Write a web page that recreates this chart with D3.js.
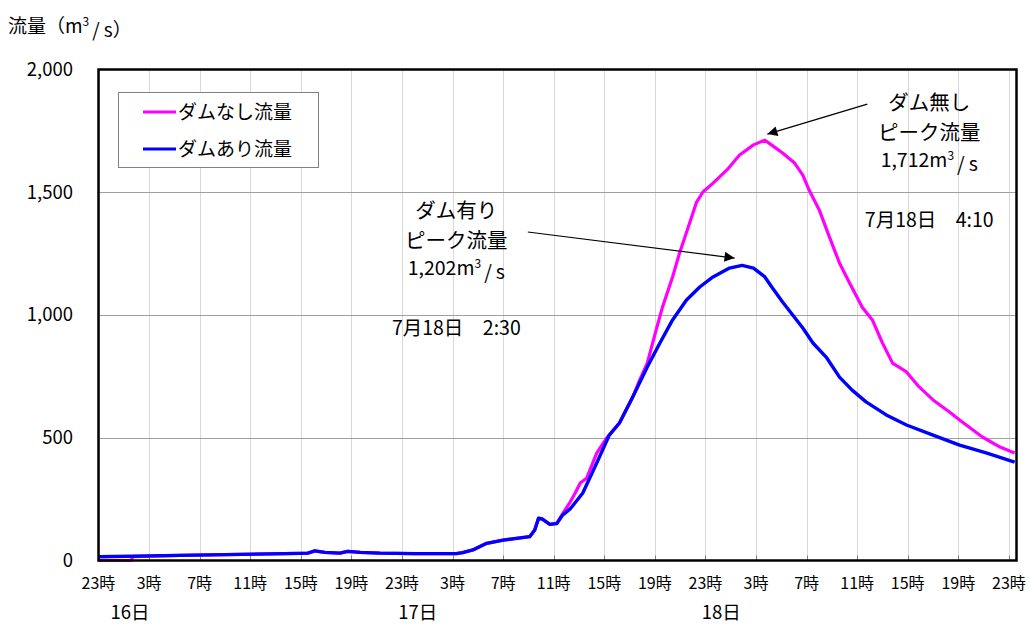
<!DOCTYPE html>
<html>
<head>
<meta charset="utf-8">
<script src="https://cdn.jsdelivr.net/npm/d3@7"></script>
<style>
  body { margin: 0; background: #fff; }
  svg text { font-family: "Noto Sans CJK JP", "Noto Sans", sans-serif; fill: #000; }
</style>
</head>
<body>
<svg id="chart" width="1030" height="624"></svg>
<script>
// Elapsed hours counted from 16日 0:00 (negative = 15日)
const hourPink = [-1, 1.6, 1.7, 5.44, 14.93, 15.56, 16.1, 16.9, 18.1, 18.7, 19.7, 21.25, 23.9, 27.3, 27.8, 28.6, 29.7,
  31.0, 33.1, 33.5, 33.8, 34.1, 34.7, 35.25, 35.7, 36.3, 36.7, 37.1, 37.6, 38.4, 39.2, 40.2, 41.25, 41.7, 42.4,
  43.1, 43.6, 44.4, 44.95, 45.75, 46.3, 46.8, 47.6, 48.7, 49.7, 50.8, 51.7, 52.3, 53.1, 54.05, 54.7, 55.2, 56.0,
  56.8, 57.6, 58.4, 59.4, 60.2, 61.0, 61.8, 62.9, 63.9, 65.0, 66.3, 67.1, 68.9, 70.3, 71.45];
const flowPink = [0, 0, 16, 21, 29, 30, 39, 33, 30, 37, 33, 30, 28, 28, 32, 43, 70,
  83, 97, 124, 172, 169, 147, 152, 190, 238, 275, 316, 335, 437, 500, 560, 666, 723, 804,
  939, 1032, 1155, 1252, 1375, 1460, 1501, 1537, 1591, 1652, 1693, 1712, 1690, 1660, 1619, 1570, 1509, 1428,
  1318, 1212, 1130, 1032, 980, 886, 804, 768, 707, 654, 605, 572, 503, 462, 438];

const hourBlue = [-1, 5.44, 14.93, 15.56, 16.1, 16.9, 18.1, 18.7, 19.7, 21.25, 23.9, 27.3, 27.8, 28.6, 29.7,
  31.0, 33.1, 33.5, 33.8, 34.1, 34.7, 35.25, 35.7, 36.3, 37.3, 38.4, 39.4, 40.2, 41.25, 42.4, 43.4, 44.4, 45.5,
  46.55, 47.6, 48.9, 49.9, 50.8, 51.7, 52.3, 53.1, 53.9, 54.7, 55.5, 56.6, 57.6, 58.6, 59.7, 61.3, 62.9, 65.0,
  67.1, 69.2, 71.45];
const flowBlue = [15, 21, 29, 30, 39, 33, 30, 37, 33, 30, 28, 28, 32, 43, 70,
  83, 97, 124, 172, 169, 147, 150, 185, 210, 275, 397, 511, 560, 666, 788, 886, 980, 1061,
  1114, 1155, 1191, 1202, 1191, 1155, 1110, 1053, 1000, 947, 886, 825, 747, 694, 646, 593, 552, 511,
  470, 438, 401];

const hourTicks = [-1, 3, 7, 11, 15, 19, 23, 27, 31, 35, 39, 43, 47, 51, 55, 59, 63, 67, 71];
const dayLabels = ["16日", "17日", "18日"];
const dayLabelHours = [1.5, 24.25, 48.25];
const flowTicks = [0, 500, 1000, 1500, 2000];

const seriesNames = ["ダムなし流量", "ダムあり流量"];
const seriesColors = ["#ff00ff", "#0000ff"];

const svg = d3.select("#chart");
const x = d3.scaleLinear().domain([-1, 71.6]).range([98.5, 1016.5]);
const y = d3.scaleLinear().domain([0, 2000]).range([560.5, 69.5]);

// vertical gridlines
svg.append("g").selectAll("line").data(hourTicks).join("line")
  .attr("x1", d => Math.round(x(d)) + 0.5).attr("x2", d => Math.round(x(d)) + 0.5)
  .attr("y1", y(2000)).attr("y2", y(0))
  .attr("stroke", "#d9d9d9").attr("stroke-width", 1);

// horizontal gridlines
svg.append("g").selectAll("line").data(flowTicks.slice(1, -1)).join("line")
  .attr("x1", x(-1)).attr("x2", x(71.6))
  .attr("y1", d => Math.round(y(d)) + 0.5).attr("y2", d => Math.round(y(d)) + 0.5)
  .attr("stroke", "#a0a0a0").attr("stroke-width", 1);

// inward tick marks on the time axis
svg.append("g").selectAll("line").data(hourTicks).join("line")
  .attr("x1", d => Math.round(x(d)) + 0.5).attr("x2", d => Math.round(x(d)) + 0.5)
  .attr("y1", y(0) - 5).attr("y2", y(0))
  .attr("stroke", "#808080").attr("stroke-width", 1);

// flow lines
const line = d3.line().x(d => x(d[0])).y(d => y(d[1]));
const pinkData = d3.zip(hourPink, flowPink);
const blueData = d3.zip(hourBlue, flowBlue);
svg.append("path").datum(pinkData).attr("d", line)
  .attr("fill", "none").attr("stroke", seriesColors[0]).attr("stroke-width", 3.2)
  .attr("stroke-linejoin", "round");
svg.append("path").datum(blueData).attr("d", line)
  .attr("fill", "none").attr("stroke", seriesColors[1]).attr("stroke-width", 3.4)
  .attr("stroke-linejoin", "round");

// plot frame
svg.append("rect")
  .attr("x", x(-1)).attr("y", y(2000))
  .attr("width", x(71.6) - x(-1)).attr("height", y(0) - y(2000))
  .attr("fill", "none").attr("stroke", "#000").attr("stroke-width", 2.5);

// axis labels
svg.append("g").selectAll("text").data(flowTicks).join("text")
  .attr("x", 73).attr("y", d => y(d)).attr("dy", "0.35em")
  .attr("text-anchor", "end").attr("font-size", 18.5)
  .text(d => d3.format(",")(d));

svg.append("g").selectAll("text").data(hourTicks).join("text")
  .attr("x", d => x(d)).attr("y", 583).attr("dy", "0.35em")
  .attr("text-anchor", "middle").attr("font-size", 16)
  .text(d => ((d + 24) % 24) + "時");

svg.append("g").selectAll("text").data(dayLabels).join("text")
  .attr("x", (d, i) => x(dayLabelHours[i])).attr("y", 613).attr("dy", "0.35em")
  .attr("text-anchor", "middle").attr("font-size", 18.5)
  .text(d => d);

// unit text "m³/s" with a raised exponent and a spaced slash
function unitSpans(sel, lead, supSize) {
  sel.append("tspan").text(lead + "m");
  sel.append("tspan").attr("font-size", supSize).attr("dy", "-0.55em").text("3");
  sel.append("tspan").attr("dy", "0.55em").attr("dx", 3).text("/");
  sel.append("tspan").attr("dx", 4).text("s");
}

// y axis title
const title = svg.append("text").attr("x", 8).attr("y", 26).attr("dy", "0.35em").attr("font-size", 19);
unitSpans(title, "流量（", 12);
title.append("tspan").text("）");

// legend
const legend = svg.append("g");
legend.append("rect").attr("x", 118.5).attr("y", 92.5).attr("width", 200).attr("height", 75)
  .attr("fill", "#fff").attr("stroke", "#808080").attr("stroke-width", 1);
seriesNames.forEach((name, i) => {
  const ly = 112 + i * 37;
  legend.append("line").attr("x1", 143).attr("x2", 176).attr("y1", ly).attr("y2", ly)
    .attr("stroke", seriesColors[i]).attr("stroke-width", 3);
  legend.append("text").attr("x", 178).attr("y", ly).attr("dy", "0.35em")
    .attr("font-size", 19).text(name);
});

// peak annotations
svg.append("defs").append("marker").attr("id", "arrowhead")
  .attr("viewBox", "0 0 10 10").attr("refX", 10).attr("refY", 5)
  .attr("markerWidth", 14).attr("markerHeight", 10).attr("markerUnits", "userSpaceOnUse")
  .attr("orient", "auto")
  .append("path").attr("d", "M0,0 L10,5 L0,10 Z").attr("fill", "#000");

const peakNames = ["ダム無し", "ダム有り"];
const peakFlows = [1712, 1202];
const peakTimes = ["7月18日　4:10", "7月18日　2:30"];
const noteHours = [64.7, 27.3];
const noteFlows = [1863, 1423];
const timeLabelY = [220, 328];
const arrowFrom = [[59.8, 1859], [32.95, 1338]];
const arrowTo = [[51.9, 1737], [49.3, 1232]];

peakNames.forEach((name, i) => {
  const cx = x(noteHours[i]);
  const top = y(noteFlows[i]);
  svg.append("text").attr("x", cx).attr("y", top).attr("dy", "0.35em")
    .attr("text-anchor", "middle").attr("font-size", 20.5).text(name);
  svg.append("text").attr("x", cx).attr("y", top + 30).attr("dy", "0.35em")
    .attr("text-anchor", "middle").attr("font-size", 20.5).text("ピーク流量");
  const v = svg.append("text").attr("x", cx).attr("y", top + 57).attr("dy", "0.35em")
    .attr("text-anchor", "middle").attr("font-size", 19.5);
  unitSpans(v, d3.format(",")(peakFlows[i]), 12);
  svg.append("text").attr("x", cx).attr("y", timeLabelY[i]).attr("dy", "0.35em")
    .attr("text-anchor", "middle").attr("font-size", 19.5).text(peakTimes[i]);
  svg.append("line")
    .attr("x1", x(arrowFrom[i][0])).attr("y1", y(arrowFrom[i][1]))
    .attr("x2", x(arrowTo[i][0])).attr("y2", y(arrowTo[i][1]))
    .attr("stroke", "#000").attr("stroke-width", 1.2)
    .attr("marker-end", "url(#arrowhead)");
});
</script>
</body>
</html>
